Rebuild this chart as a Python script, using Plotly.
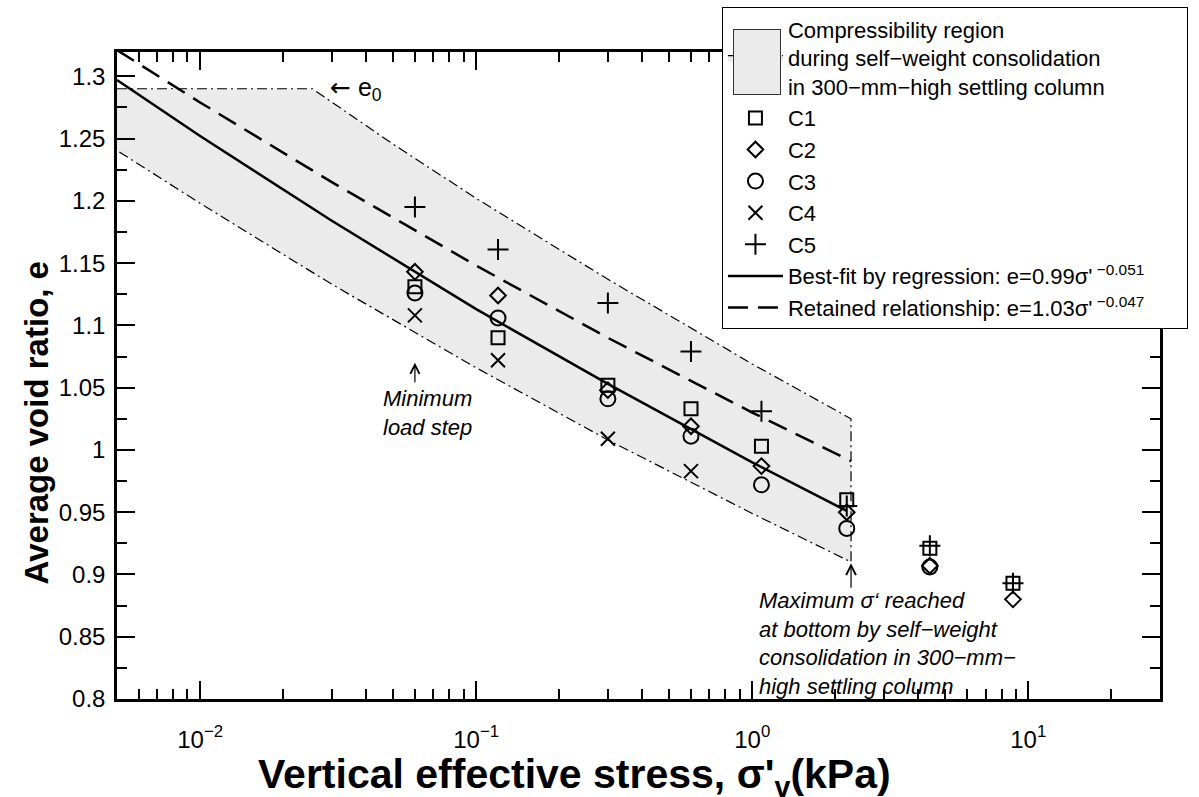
import math
import plotly.graph_objects as go

# ---------------- data ----------------
sigma = [0.06, 0.12, 0.3, 0.6, 1.08, 2.2, 4.4, 8.8]
e_c1 = [1.131, 1.090, 1.052, 1.033, 1.003, 0.960, 0.921, 0.893]
e_c2 = [1.143, 1.124, 1.048, 1.019, 0.987, 0.950, 0.907, 0.880]
e_c3 = [1.126, 1.106, 1.041, 1.011, 0.972, 0.937, 0.906, None]
e_c4 = [1.108, 1.072, 1.009, 0.983, None, None, None, None]
e_c5 = [1.195, 1.161, 1.118, 1.079, 1.031, 0.955, 0.923, 0.893]

fit_sigma = [0.005, 0.01, 0.03, 0.1, 0.3, 1, 2.2]
fit_e = [1.297, 1.252, 1.184, 1.113, 1.053, 0.990, 0.951]
ret_sigma = [0.005, 0.01, 0.03, 0.1, 0.3, 1, 2.28]
ret_e = [1.321, 1.279, 1.215, 1.148, 1.090, 1.030, 0.991]

region_upper_sigma = [0.005, 0.0255, 0.05, 0.1, 0.3, 1, 2.28]
region_upper_e = [1.29, 1.29, 1.2455, 1.202, 1.137, 1.069, 1.025]
region_lower_sigma = [2.28, 1, 0.3, 0.1, 0.03, 0.01, 0.005]
region_lower_e = [0.910, 0.949, 1.008, 1.066, 1.133, 1.198, 1.2405]

x_tick_vals = [0.01, 0.1, 1, 10]
x_tick_text = ["10<sup>−2</sup>", "10<sup>−1</sup>", "10<sup>0</sup>", "10<sup>1</sup>"]
y_tick_vals = [0.8, 0.85, 0.9, 0.95, 1.0, 1.05, 1.1, 1.15, 1.2, 1.25, 1.3]
y_tick_text = ["0.8", "0.85", "0.9", "0.95", "1", "1.05", "1.1", "1.15", "1.2", "1.25", "1.3"]

FONT = "Liberation Sans, Arial, Helvetica, sans-serif"
TXT = 22
NBSP = "\u00a0"

fig = go.Figure()

fig.add_trace(go.Scatter(
    x=region_upper_sigma + region_lower_sigma,
    y=region_upper_e + region_lower_e,
    mode="lines", fill="toself", fillcolor="#ebebeb",
    line=dict(color="black", width=1.2, dash="10px,4px,2px,4px"),
    name="Compressibility region<br>during self−weight consolidation<br>in 300−mm−high settling column",
    legendgroup="g1", hoverinfo="skip",
))

series = [
    ("C1", e_c1, "square-open", 13),
    ("C2", e_c2, "diamond-open", 12),
    ("C3", e_c3, "circle-open", 15),
    ("C4", e_c4, "x-thin-open", 14),
    ("C5", e_c5, "cross-thin-open", 15),
]
for name, vals, sym, size in series:
    fig.add_trace(go.Scatter(
        x=sigma, y=vals, mode="markers", name=name, legendgroup="g2",
        marker=dict(symbol=sym, size=size, color="black",
                    line=dict(color="black", width=2)),
    ))

fig.add_trace(go.Scatter(
    x=fit_sigma, y=fit_e, mode="lines", legendgroup="g3",
    line=dict(color="black", width=2.5),
    name="Best-fit by regression: e=0.99σ'<sup> −0.051</sup>" + NBSP * 6,
))
fig.add_trace(go.Scatter(
    x=ret_sigma, y=ret_e, mode="lines", legendgroup="g3",
    line=dict(color="black", width=2.5, dash="20px,10px"),
    name="Retained relationship: e=1.03σ'<sup> −0.047</sup>",
))

minor_x = [m * 10 ** d for d in range(-3, 2) for m in range(2, 10)]
minor_x = [v for v in minor_x if 0.0055 < v < 30]

axis_common = dict(
    showline=True, linecolor="black", linewidth=2.5, mirror="allticks",
    ticks="inside", ticklen=18, tickwidth=2, tickcolor="black",
    showgrid=False, zeroline=False,
    tickfont=dict(family=FONT, size=24, color="black"),
)

fig.update_xaxes(
    type="log", range=[math.log10(0.005), math.log10(30)],
    tickvals=x_tick_vals, ticktext=x_tick_text,
    minor=dict(ticks="inside", ticklen=10, tickwidth=2, tickcolor="black",
               tickvals=minor_x, showgrid=False),
    ticklabelstandoff=17,
    **axis_common,
)
fig.update_yaxes(
    range=[0.8, 1.3195],
    tickvals=y_tick_vals, ticktext=y_tick_text,
    minor=dict(ticks="inside", ticklen=10, tickwidth=2, tickcolor="black",
               dtick=0.025, tick0=0.8, showgrid=False),
    ticklabelstandoff=4,
    **axis_common,
)

# axis titles (placed as in the reference, which is not centred on the axes)
fig.add_annotation(xref="paper", yref="paper", x=0.439, y=-0.121,
                   xanchor="center", yanchor="middle", showarrow=False,
                   text="Vertical effective stress, σ'<sub>v</sub>(kPa)",
                   font=dict(family=FONT, size=41, color="black", weight="bold"))
fig.add_annotation(xref="paper", yref="paper", x=-0.077, y=0.427,
                   xanchor="center", yanchor="middle", showarrow=False,
                   textangle=-90, text="Average void ratio, e",
                   font=dict(family=FONT, size=33, color="black", weight="bold"))

ann_font = dict(family=FONT, size=TXT, color="black")
fig.add_annotation(x=math.log10(0.029), y=1.29, xref="x", yref="y",
                   text="<span style='font-family:DejaVu Sans'>←</span> e<sub>0</sub>",
                   showarrow=False, xanchor="left", yanchor="middle",
                   font=dict(family=FONT, size=25, color="black"))
fig.add_annotation(x=math.log10(0.06), y=1.070, xref="x", yref="y",
                   text="", showarrow=True, ax=0, ay=21, axref="pixel", ayref="pixel",
                   arrowhead=5, arrowsize=1.5, arrowwidth=1.2, arrowcolor="black")
fig.add_annotation(x=math.log10(0.0453), y=1.030, xref="x", yref="y",
                   text="<i>Minimum<br>load step</i>", showarrow=False,
                   xanchor="left", yanchor="middle", align="left", font=ann_font)
fig.add_annotation(x=math.log10(2.28), y=0.909, xref="x", yref="y",
                   text="", showarrow=True, ax=0, ay=26, axref="pixel", ayref="pixel",
                   arrowhead=5, arrowsize=1.6, arrowwidth=1.2, arrowcolor="black")
fig.add_annotation(x=math.log10(1.04), y=0.8, xref="x", yref="y",
                   text="<i>Maximum σ‘ reached<br>at bottom by self−weight<br>consolidation in 300−mm−<br>high settling column</i>",
                   showarrow=False, xanchor="left", yanchor="bottom", align="left",
                   yshift=-2, font=ann_font)

fig.update_layout(
    width=1199, height=797, autosize=False,
    margin=dict(l=117, r=39, t=52, b=98, autoexpand=False),
    plot_bgcolor="white", paper_bgcolor="white",
    font=dict(family=FONT, color="black"),
    legend=dict(x=0.58, y=1.0691, xanchor="left", yanchor="top",
                bgcolor="white", bordercolor="black", borderwidth=1,
                font=dict(family=FONT, size=TXT, color="black"),
                itemwidth=55, tracegroupgap=0, traceorder="grouped"),
    showlegend=True,
)

# grey swatch for the region entry in the legend (drawn over the legend symbol)
fig.add_annotation(xref="paper", yref="paper", x=0.6136, y=0.985,
                   xanchor="center", yanchor="middle", text=" ", showarrow=False,
                   width=46, height=64, bgcolor="#ebebeb",
                   bordercolor="#333333", borderwidth=1, borderpad=0)

fig.write_html("out.html")
